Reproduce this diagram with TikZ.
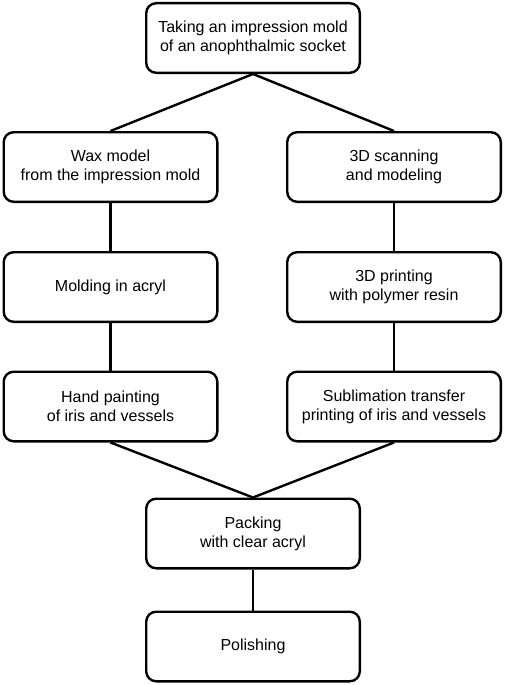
\documentclass[tikz,border=0pt]{standalone}
\usepackage{fontspec}
\setmainfont{Liberation Sans}
\usetikzlibrary{positioning}
\tikzset{
  procbox/.style={draw,rounded corners=10pt,line width=2.4pt,minimum width=213.6pt,minimum height=69.6pt,align=center,font=\fontsize{16}{19}\selectfont,inner sep=2pt},
  link/.style={line width=2.4pt}
}

\begin{document}
\begin{tikzpicture}[x=1pt,y=-1pt]
\useasboundingbox (0,0) rectangle (505,685);
% top
\node[procbox] (mold) at (253,38) {Taking an impression mold\\of an anophthalmic socket};
% conventional branch
\node[procbox] (wax) at (110.5,167) {Wax model\\from the impression mold};
\node[procbox] (acryl) at (110.5,287) {Molding in acryl};
\node[procbox] (hand) at (110.5,406.5) {Hand painting\\of iris and vessels};
% digital branch
\node[procbox] (scan) at (394,167) {3D scanning\\and modeling};
\node[procbox] (print) at (394,287) {3D printing\\with polymer resin};
\node[procbox] (subl) at (394,406.5) {Sublimation transfer\\printing of iris and vessels};
% bottom
\node[procbox] (pack) at (253,533.5) {Packing\\with clear acryl};
\node[procbox] (polish) at (253,646.5) {Polishing};
\draw[link] (mold.south) -- (wax.north);
\draw[link] (mold.south) -- (scan.north);
\draw[link] (wax) -- (acryl);
\draw[link] (acryl) -- (hand);
\draw[link] (scan) -- (print);
\draw[link] (print) -- (subl);
\draw[link] (hand.south) -- (pack.north);
\draw[link] (subl.south) -- (pack.north);
\draw[link] (pack) -- (polish);
\end{tikzpicture}
\end{document}
